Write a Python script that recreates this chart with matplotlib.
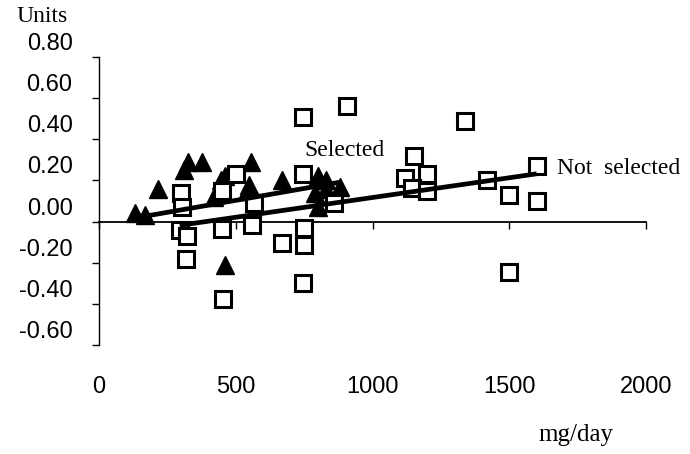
import matplotlib.pyplot as plt
from matplotlib.transforms import ScaledTranslation

# "Selected" group (filled triangles)
sel_x = [130, 170, 215, 310, 325, 375, 420, 445, 460, 460, 540, 555, 550,
         670, 790, 800, 830, 880, 800, 830]
sel_y = [0.04, 0.03, 0.16, 0.25, 0.29, 0.29, 0.12, 0.20, 0.22, -0.21, 0.15,
         0.29, 0.18, 0.20, 0.14, 0.22, 0.20, 0.17, 0.07, 0.16]

# "Not selected" group (open squares)
not_x = [300, 305, 295, 320, 318, 450, 500, 450, 455, 565, 560, 670, 745,
         745, 750, 750, 745, 905, 860, 1120, 1150, 1200, 1145, 1200, 1340,
         1420, 1500, 1500, 1600, 1600]
not_y = [0.14, 0.07, -0.04, -0.07, -0.18, 0.15, 0.23, -0.035, -0.375, 0.09,
         -0.015, -0.105, 0.51, 0.23, -0.03, -0.115, -0.30, 0.56, 0.09, 0.21,
         0.32, 0.23, 0.165, 0.15, 0.49, 0.20, 0.13, -0.245, 0.27, 0.10]

# linear trend lines (intercept, slope)
sel_fit = (-0.013, 0.000232)
not_fit = (-0.075, 0.000192)

x_ticks = [0, 500, 1000, 1500, 2000]
y_ticks = [-0.6, -0.4, -0.2, 0.0, 0.2, 0.4, 0.6, 0.8]
y_labels = ['-0.60', '-0.40', '-0.20', '0.00', '0.20', '0.40', '0.60', '0.80']

sans = 'Liberation Sans'
serif = 'Liberation Serif'

fig = plt.figure(figsize=(6.9, 4.54), dpi=100)
ax = fig.add_axes([99 / 690, 1 - 345 / 454, (646 - 99) / 690, (345 - 57) / 454])
ax.set_xlim(0, 2000)
ax.set_ylim(-0.6, 0.8)

ax.plot(sel_x, sel_y, linestyle='none', marker='^', markersize=13,
        color='black', zorder=3)
ax.plot(not_x, not_y, linestyle='none', marker='s', markersize=11.5,
        markerfacecolor='white', markeredgecolor='black',
        markeredgewidth=2.2, zorder=4)

for xs, (a, b) in ((sel_x, sel_fit), (not_x, not_fit)):
    lx = [min(xs), max(xs)]
    ax.plot(lx, [a + b * v for v in lx], color='black', lw=3.4,
            solid_capstyle='butt', zorder=5)

ax.text(752, 0.345, 'Selected', family=serif, fontsize=17, va='center')
ax.text(1675, 0.257, 'Not  selected', family=serif, fontsize=17, va='center')

for s in ('top', 'right', 'bottom'):
    ax.spines[s].set_visible(False)
ax.spines['left'].set_linewidth(1.0)

ax.set_xticks(x_ticks)
ax.set_xticklabels([str(v) for v in x_ticks], family=sans, fontsize=17)
ax.tick_params(axis='x', length=0, pad=22)

ax.set_yticks(y_ticks)
ax.set_yticklabels(y_labels, family=sans, fontsize=17)
ax.tick_params(axis='y', direction='out', length=5, width=1, pad=14)
shift = ScaledTranslation(0, 0.155, fig.dpi_scale_trans)
for lbl in ax.get_yticklabels():
    lbl.set_transform(lbl.get_transform() + shift)

# x axis line at y = 0 with its tick marks
zero = (0 - y_ticks[0]) / (y_ticks[-1] - y_ticks[0])
sec = ax.secondary_xaxis(zero)
sec.set_xticks(x_ticks)
sec.set_xticklabels([])
sec.tick_params(direction='out', length=5, width=1)
sec.spines['bottom'].set_linewidth(1.3)

fig.text(42 / 690, 1 - 16 / 454, 'Units', family=serif, fontsize=17,
         ha='center', va='center')
fig.text(576 / 690, 1 - 435 / 454, 'mg/day', family=serif, fontsize=18,
         ha='center', va='center')

fig.savefig('out.png', dpi=100)
